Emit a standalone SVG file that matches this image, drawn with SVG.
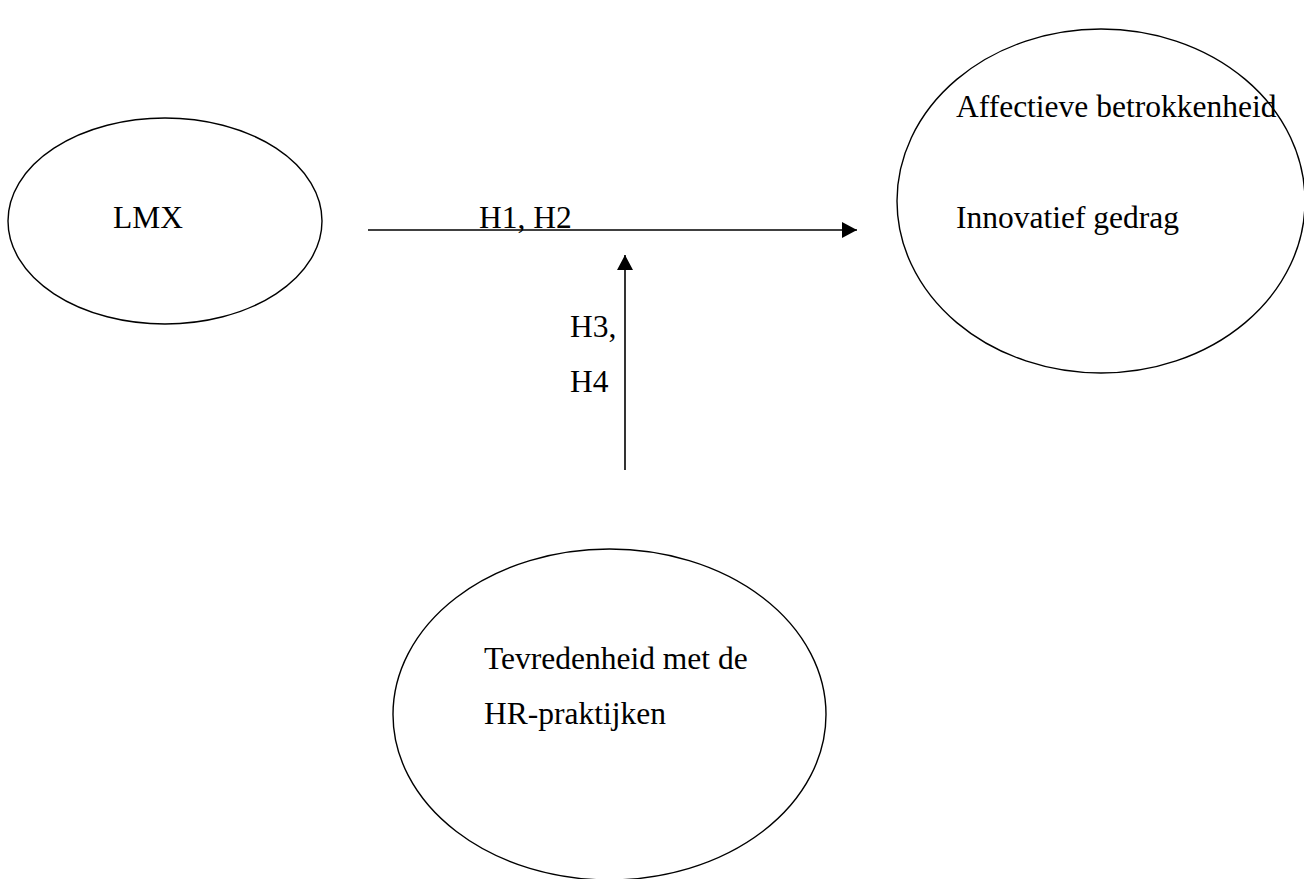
<svg xmlns="http://www.w3.org/2000/svg" width="1304" height="879" viewBox="0 0 1304 879">
<style>
.node{fill:none;stroke:#000;stroke-width:1.4}
.lbl{font-family:"Liberation Serif","Times New Roman",serif;font-size:31.5px;fill:#000}
.conn{stroke:#000;stroke-width:1.6;fill:none}
</style>
<defs>
<marker id="ah" markerWidth="15" markerHeight="16" refX="15" refY="8" orient="auto" markerUnits="userSpaceOnUse">
<path d="M0,0 L15,8 L0,16 Z" fill="#000"/>
</marker>
</defs>
<rect width="1304" height="879" fill="#fff"/>
<g id="lmx">
<ellipse class="node" cx="165" cy="221" rx="157" ry="103"/>
<text class="lbl" x="113" y="228">LMX</text>
</g>
<g id="outcomes">
<ellipse class="node" cx="1101" cy="201" rx="204" ry="172"/>
<text class="lbl" x="956" y="117">Affectieve betrokkenheid</text>
<text class="lbl" x="956" y="228">Innovatief gedrag</text>
</g>
<g id="hr">
<ellipse class="node" cx="609.5" cy="714.5" rx="216.5" ry="165.5"/>
<text class="lbl" x="484" y="669">Tevredenheid met de</text>
<text class="lbl" x="484" y="724">HR-praktijken</text>
</g>
<g id="connectors">
<line class="conn" x1="368" y1="230" x2="857" y2="230" marker-end="url(#ah)"/>
<line class="conn" x1="625" y1="470" x2="625" y2="255" marker-end="url(#ah)"/>
<text class="lbl" x="479" y="228">H1, H2</text>
<text class="lbl" x="570" y="337">H3,</text>
<text class="lbl" x="570" y="392">H4</text>
</g>
</svg>
